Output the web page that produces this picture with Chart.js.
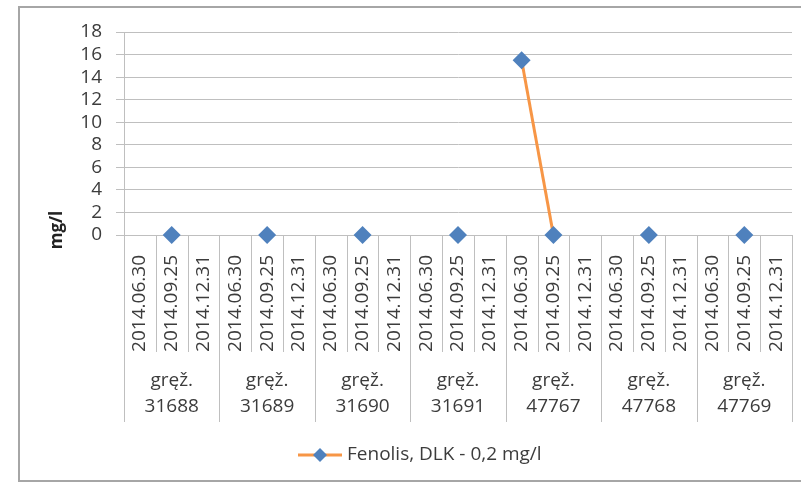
<!DOCTYPE html>
<html>
<head>
<meta charset="utf-8">
<script src="https://cdn.jsdelivr.net/npm/chart.js@4.4.0/dist/chart.umd.min.js"></script>
<style>
    html, body { margin: 0; padding: 0; background: #fff; }
</style>
</head>
<body>
<canvas id="lineChart" width="801" height="484"></canvas>
<script>
    /** data **/
    var wells = ["31688", "31689", "31690", "31691", "47767", "47768", "47769"];
    var dates = ["2014.06.30", "2014.09.25", "2014.12.31"];
    var fenolis = [
        null, 0, null,
        null, 0, null,
        null, 0, null,
        null, 0, null,
        15.5, 0, null,
        null, 0, null,
        null, 0, null
    ];
    var yMax = 18, yStep = 2;
    var seriesName = "Fenolis, DLK - 0,2 mg/l";
    var axisTitle = "mg/l";

    var labels = [];
    wells.forEach(function () {
        dates.forEach(function (d) { labels.push(d); });
    });

    var FONT = "'Open Sans', sans-serif";
    var TEXT = '#3c3c3c';
    var GRID = '#bfbfbf';
    var ORANGE = '#f79646';
    var BLUE = '#4f81bd';

    /** group labels, separators, axis title, legend, frame **/
    var extras = {
        id: 'extras',
        afterDraw: function (chart) {
            var ctx = chart.ctx;
            var xs = chart.scales.x;
            var area = chart.chartArea;
            var band = xs.getPixelForValue(1) - xs.getPixelForValue(0);

            ctx.save();
            // separators under the axis
            ctx.strokeStyle = GRID;
            ctx.lineWidth = 1;
            for (var i = 0; i <= labels.length; i++) {
                var bx = i < labels.length ? xs.getPixelForValue(i) - band / 2 : xs.getPixelForValue(i - 1) + band / 2;
                bx = Math.round(bx) + 0.5;
                var end = (i % dates.length === 0) ? 422 : 352;
                ctx.beginPath();
                ctx.moveTo(bx, area.bottom);
                ctx.lineTo(bx, end);
                ctx.stroke();
            }

            // well names
            ctx.fillStyle = TEXT;
            ctx.font = "19px " + FONT;
            ctx.textAlign = 'center';
            ctx.textBaseline = 'middle';
            wells.forEach(function (w, g) {
                var cx = xs.getPixelForValue(g * dates.length + 1);
                ctx.fillText("gręž.", cx, 381);
                ctx.fillText(w, cx, 407);
            });

            // y axis title
            ctx.save();
            ctx.translate(57, 230);
            ctx.rotate(-Math.PI / 2);
            ctx.font = "bold 17px " + FONT;
            ctx.fillStyle = '#222';
            ctx.fillText(axisTitle, 0, 0);
            ctx.restore();

            // legend
            var ly = 455;
            ctx.strokeStyle = ORANGE;
            ctx.lineWidth = 3;
            ctx.beginPath();
            ctx.moveTo(298, ly);
            ctx.lineTo(342, ly);
            ctx.stroke();
            ctx.fillStyle = BLUE;
            Chart.helpers.drawPoint(ctx, {pointStyle: 'rectRot', radius: 7, borderWidth: 0}, 320, ly);
            ctx.fillStyle = TEXT;
            ctx.textAlign = 'left';
            ctx.font = "19px " + FONT;
            ctx.fillText(seriesName, 347, ly);

            // outer frame
            ctx.strokeStyle = '#a6a6a6';
            ctx.lineWidth = 2;
            ctx.strokeRect(19, 7, 800, 474);
            ctx.restore();
        }
    };

    var lineData = {
        labels: labels,
        datasets: [
            {
                label: seriesName,
                data: fenolis,
                borderColor: ORANGE,
                borderWidth: 3,
                backgroundColor: BLUE,
                pointBackgroundColor: BLUE,
                pointBorderColor: BLUE,
                pointBorderWidth: 0,
                pointStyle: 'rectRot',
                pointRadius: 9,
                spanGaps: false,
                tension: 0,
                clip: false
            }
        ]
    };

    var lineOptions = {
        responsive: false,
        animation: false,
        layout: { padding: { left: 0, right: 8, top: 32, bottom: 0 } },
        plugins: {
            legend: { display: false },
            tooltip: { enabled: false }
        },
        scales: {
            x: {
                offset: true,
                grid: { display: false },
                border: { color: GRID },
                ticks: {
                    autoSkip: false,
                    minRotation: 90,
                    maxRotation: 90,
                    padding: 12,
                    color: TEXT,
                    font: { family: FONT, size: 19 }
                },
                afterFit: function (scale) {
                    scale.height = 249;
                    scale.paddingLeft = 0;
                    scale.paddingRight = 0;
                }
            },
            y: {
                min: 0,
                max: yMax,
                grid: { color: GRID, tickLength: 8 },
                border: { color: GRID },
                ticks: {
                    stepSize: yStep,
                    autoSkip: false,
                    padding: 14,
                    color: TEXT,
                    font: { family: FONT, size: 19 }
                },
                afterFit: function (scale) {
                    scale.width = 124;
                    scale.paddingTop = 0;
                    scale.paddingBottom = 0;
                }
            }
        }
    };

    var ctx = document.getElementById("lineChart").getContext("2d");
    new Chart(ctx, {type: 'line', data: lineData, options: lineOptions, plugins: [extras]});
</script>
</body>
</html>
